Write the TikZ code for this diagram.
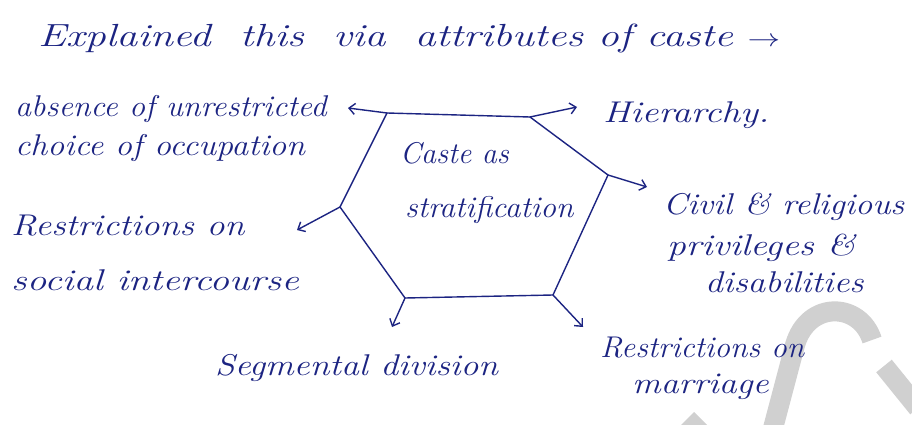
\documentclass[tikz,border=0pt]{standalone}
\usepackage{graphicx}
\usetikzlibrary{arrows.meta}
\definecolor{ink}{RGB}{28,36,130}
\definecolor{wm}{RGB}{208,208,208}
\newcommand{\hstretch}[2]{\scalebox{#1}[1]{#2}}
\begin{document}
\begin{tikzpicture}[x=1pt,y=-1pt,
  hw/.style={text=ink, font=\itshape\fontsize{30}{34}\selectfont, inner sep=0pt, anchor=base west},
  edge/.style={draw=ink, line width=1.4pt, line cap=round, line join=round},
  arr/.style={edge, -{Straight Barb[length=6pt,width=11pt]}},
  wmark/.style={draw=wm, line width=20pt}]
\useasboundingbox (0,0) rectangle (912,425);
\fill[white] (0,0) rectangle (912,425);
% watermark
\draw[wmark] (872,340) .. controls (860,302) and (808,300) .. (795,345) -- (772,432);
\draw[wmark] (884,366) -- (918,408);
\fill[wm] (680,426) -- (694,412) -- (708,426) -- cycle;
% title
\node[hw, font=\itshape\fontsize{32}{36}\selectfont] (title) at (38,47) {\hstretch{1.31}{Explained\ \ this\ \ via\ \ attributes of caste $\rightarrow$}};
% hexagon vertices
\coordinate (tl) at (387,113);
\coordinate (tr) at (530,117);
\coordinate (r) at (608,175);
\coordinate (br) at (553,295);
\coordinate (bl) at (405,298);
\coordinate (l) at (340,207);
\draw[edge] (tl) -- (tr) -- (r) -- (br) -- (bl) -- (l) -- cycle;
% arrow ends
\coordinate (etl) at (348,108);
\coordinate (etr) at (577,107);
\coordinate (er) at (647,187);
\coordinate (el) at (297,230);
\coordinate (ebl) at (392,327);
\coordinate (ebr) at (583,327);
\draw[arr] (tl) -- (etl);
\draw[arr] (tr) -- (etr);
\draw[arr] (r) -- (er);
\draw[arr] (l) -- (el);
\draw[arr] (bl) -- (ebl);
\draw[arr] (br) -- (ebr);
% centre
\node[hw] (c1) at (400,163) {Caste as};
\node[hw] (c2) at (405,217) {\hstretch{1.05}{stratification}};
% left
\node[hw] (a1) at (15,117) {\hstretch{1.07}{absence of unrestricted}};
\node[hw] (a2) at (15,155) {\hstretch{1.13}{choice of occupation}};
\node[hw] (s1) at (11,235) {\hstretch{1.2}{Restrictions on}};
\node[hw] (s2) at (11,290) {\hstretch{1.3}{social intercourse}};
% bottom
\node[hw] (seg) at (215,375) {\hstretch{1.19}{Segmental division}};
% right
\node[hw] (h) at (603,123) {\hstretch{1.25}{Hierarchy.}};
\node[hw] (v1) at (663,214) {\hstretch{1.15}{Civil \& religious}};
\node[hw] (v2) at (667,255) {\hstretch{1.25}{privileges \&}};
\node[hw] (v3) at (705,292) {\hstretch{1.18}{disabilities}};
\node[hw] (m1) at (600,357) {\hstretch{1.05}{Restrictions on}};
\node[hw] (m2) at (632,393) {\hstretch{1.19}{marriage}};
\end{tikzpicture}
\end{document}
